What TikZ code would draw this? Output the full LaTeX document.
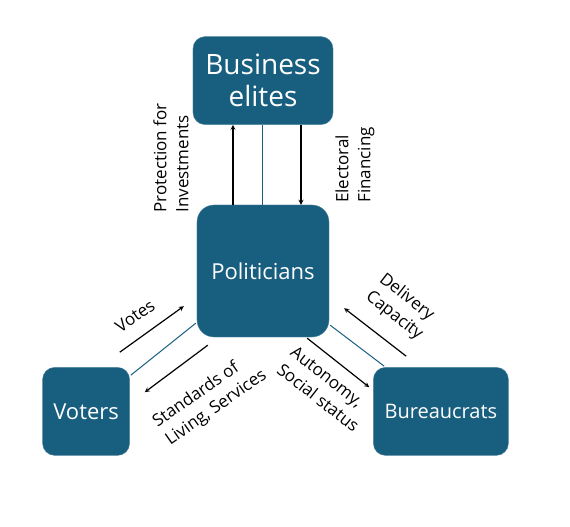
\documentclass[tikz,border=0pt]{standalone}
\usepackage{xcolor}
\usepackage{fontspec}
\setmainfont{Open Sans}
\usepackage{tikz}
\usetikzlibrary{arrows, positioning}
\definecolor{boxblue}{RGB}{24,94,126}

\begin{document}
\begin{tikzpicture}[
        x=1pt, y=1pt,
        actor/.style={rectangle, rounded corners=12pt, minimum height=88pt, text centered, draw=boxblue!75!white, fill=boxblue, text=white, inner sep=2pt},
        flow/.style={font=\fontsize{17}{22}\selectfont, align=left, inner sep=0pt},
        arrow/.style={line width=1.2pt,->,>=stealth},
        link/.style={line width=1pt, draw=boxblue}
    ]

    \useasboundingbox (-263,-256) rectangle (307,271);

    \node (pol) [actor, minimum width=132pt, minimum height=132pt, rounded corners=17pt, font=\fontsize{22}{26}\selectfont] {Politicians};
    \node (bus) [actor, above=80pt of pol, minimum width=140pt, align=center, font=\fontsize{28}{32}\selectfont] {Business\\elites};
    \node (voters) [actor, below left=30pt and 67pt of pol, minimum width=87pt, font=\fontsize{22}{26}\selectfont] {Voters};
    \node (bur) [actor, below right=30pt and 44pt of pol, minimum width=135pt, font=\fontsize{20}{24}\selectfont] {Bureaucrats};

    % business elites <-> politicians
    \draw [arrow] ([xshift=-30pt]pol.north) -- ([xshift=-30pt]bus.south);
    \draw [link] (pol.north) -- (bus.south);
    \draw [arrow] ([xshift=38pt]bus.south) -- ([xshift=38pt]pol.north);

    % voters <-> politicians
    \draw [arrow] ([shift={(-10,15)}]voters.north east) -- ([shift={(-13,31)}]pol.south west);
    \draw [link] ([shift={(1,-8)}]voters.north east) -- ([shift={(-1,14)}]pol.south west);
    \draw [arrow] ([shift={(11,-8)}]pol.south west) -- ([shift={(15,-25)}]voters.north east);

    % bureaucrats <-> politicians
    \draw [arrow] ([shift={(33,11)}]bur.north west) -- ([shift={(15,29)}]pol.south east);
    \draw [link] ([shift={(1,12)}]pol.south east) -- ([shift={(11,1)}]bur.north west);
    \draw [arrow] ([shift={(-22,-1)}]pol.south east) -- ([shift={(-4,-20)}]bur.north west);

    \node (protlbl) [flow, rotate=90] at ([shift={(-92,113)}]pol.center) {Protection for\\Investments};
    \node (eleclbl) [flow, rotate=90] at ([shift={(92,106)}]pol.center) {Electoral\\Financing};
    \node (votelbl) [flow, rotate=35] at ([shift={(-128,-45)}]pol.center) {Votes};
    \node (servlbl) [flow, rotate=35] at ([shift={(-53,-128)}]pol.center) {Standards of\\Living, Services};
    \node (delivlbl) [flow, rotate=-38] at ([shift={(138,-36)}]pol.center) {Delivery\\Capacity};
    \node (autolbl) [flow, rotate=-38] at ([shift={(62,-118)}]pol.center) {Autonomy,\\Social status};

\end{tikzpicture}
\end{document}
